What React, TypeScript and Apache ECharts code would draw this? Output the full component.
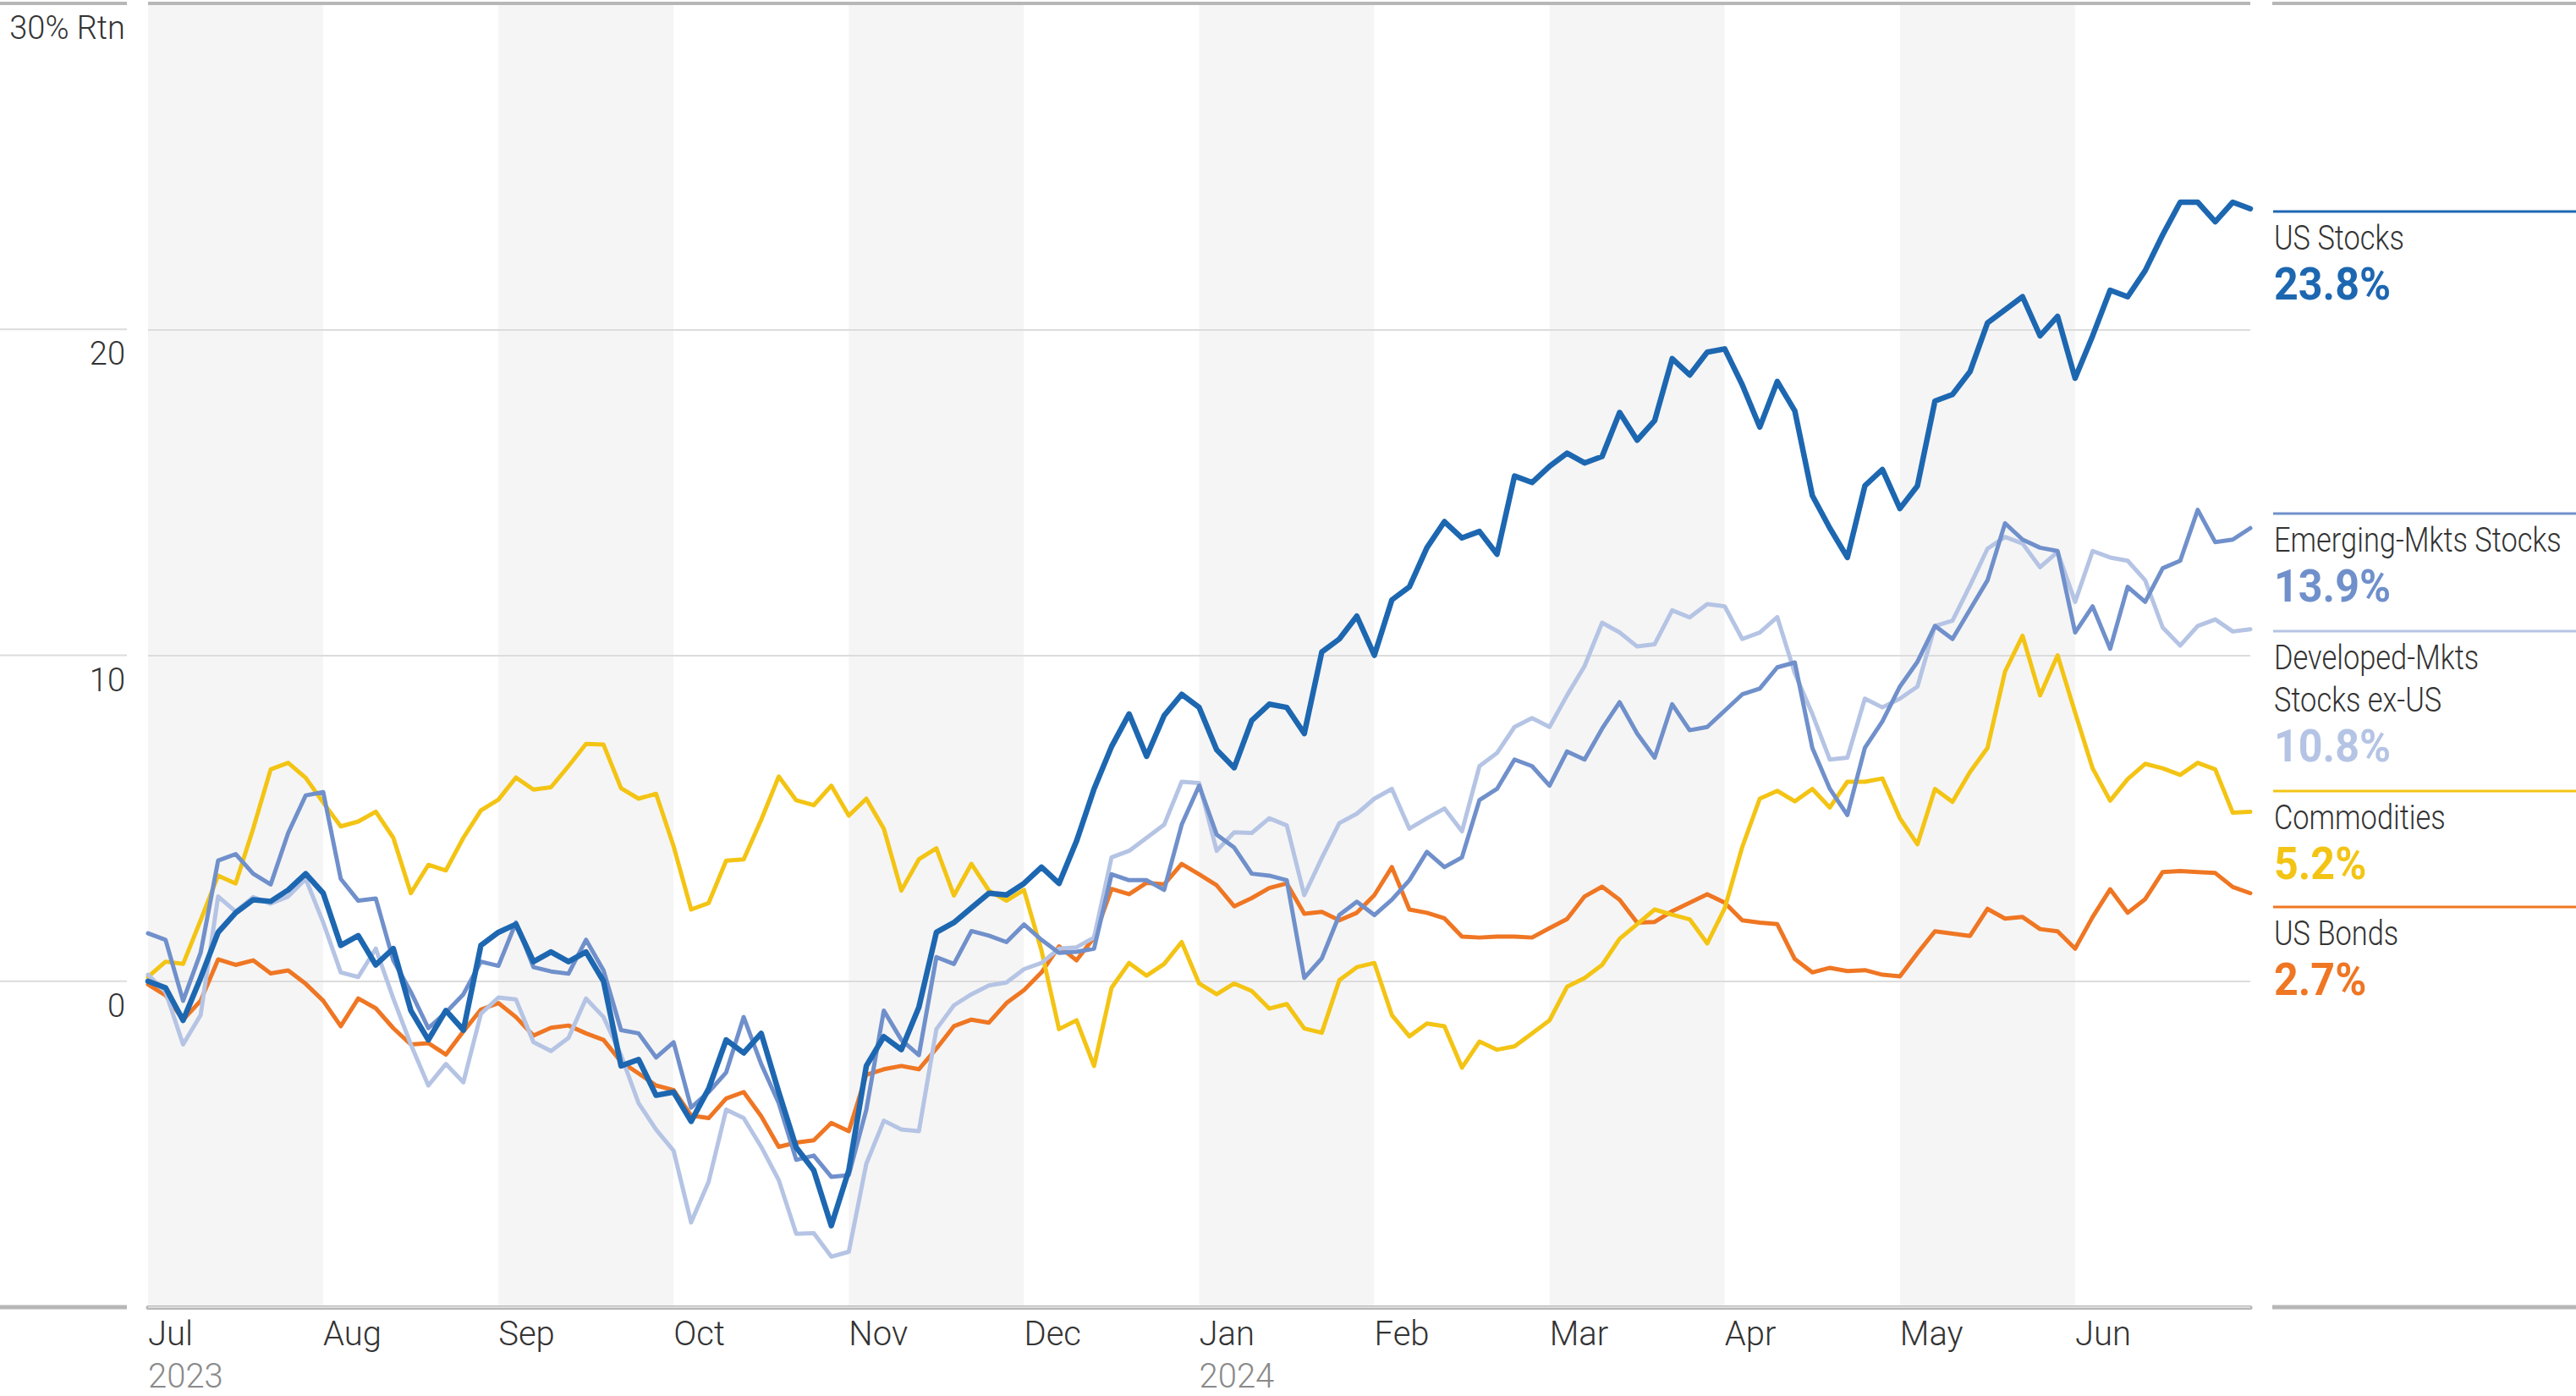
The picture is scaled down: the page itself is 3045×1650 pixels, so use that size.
import React, { useEffect, useRef } from "react";
import * as echarts from "echarts";

// ---------- data ----------
const months = ["Jul", "Aug", "Sep", "Oct", "Nov", "Dec", "Jan", "Feb", "Mar", "Apr", "May", "Jun"];
const yearLabels = ["2023", "", "", "", "", "", "2024", "", "", "", "", ""];
const yTicks = [-10, 0, 10, 20, 30];
const SAMPLES_PER_MONTH = 10; // one reading every ~3 calendar days

const usStocks = [
  0.0, -0.2, -1.2, 0.1, 1.5, 2.1, 2.5, 2.45, 2.8, 3.3,
  2.7, 1.1, 1.4, 0.5, 1.0, -0.9, -1.8, -0.9, -1.5, 1.1,
  1.5, 1.75, 0.6, 0.9, 0.6, 0.9, 0.0, -2.6, -2.4, -3.5,
  -3.4, -4.3, -3.3, -1.8, -2.2, -1.6, -3.4, -5.1, -5.8, -7.5,
  -5.8, -2.6, -1.7, -2.1, -0.8, 1.5, 1.8, 2.25, 2.7, 2.65,
  3.0, 3.5, 3.0, 4.3, 5.9, 7.2, 8.2, 6.9, 8.15, 8.8,
  8.4, 7.1, 6.55, 8.0, 8.5, 8.4, 7.6, 10.1, 10.5, 11.2,
  10.0, 11.7, 12.1, 13.3, 14.1, 13.6, 13.8, 13.1, 15.5, 15.3,
  15.8, 16.2, 15.9, 16.1, 17.45, 16.6, 17.2, 19.1, 18.6, 19.3,
  19.4, 18.3, 17.0, 18.4, 17.5, 14.9, 13.9, 13.0, 15.2, 15.7,
  14.5, 15.2, 17.8, 18.0, 18.7, 20.2, 20.6, 21.0, 19.8, 20.4,
  18.5, 19.8, 21.2, 21.0, 21.8, 22.9, 23.9, 23.9, 23.3, 23.9,
  23.7,
];

const emergingStocks = [
  1.47, 1.27, -0.6, 0.87, 3.7, 3.9, 3.3, 2.97, 4.55, 5.7,
  5.8, 3.14, 2.47, 2.54, 0.64, -0.33, -1.44, -0.96, -0.4, 0.6,
  0.47, 1.8, 0.43, 0.3, 0.23, 1.27, 0.33, -1.5, -1.6, -2.34,
  -1.87, -3.88, -3.4, -2.8, -1.1, -2.54, -3.74, -5.48, -5.35, -6.0,
  -5.95, -3.94, -0.9, -1.8, -2.27, 0.74, 0.53, 1.54, 1.4, 1.2,
  1.74, 1.27, 0.87, 0.9, 1.0, 3.28, 3.1, 3.1, 2.8, 4.8,
  6.0, 4.5, 4.1, 3.3, 3.24, 3.1, 0.1, 0.7, 2.03, 2.44,
  2.03, 2.5, 3.1, 3.97, 3.5, 3.8, 5.56, 5.9, 6.8, 6.6,
  6.0, 7.05, 6.8, 7.75, 8.56, 7.6, 6.86, 8.5, 7.7, 7.8,
  8.3, 8.8, 8.98, 9.63, 9.78, 7.16, 5.9, 5.1, 7.16, 7.97,
  9.04, 9.8, 10.9, 10.5, 11.4, 12.3, 14.05, 13.55, 13.3, 13.2,
  10.7, 11.5, 10.2, 12.1, 11.64, 12.67, 12.9, 14.46, 13.47, 13.55,
  13.9,
];

const developedStocks = [
  0.2, -0.33, -1.94, -1.04, 2.6, 2.14, 2.58, 2.38, 2.6, 3.14,
  1.8, 0.27, 0.13, 1.0, -0.53, -1.94, -3.2, -2.54, -3.1, -1.0,
  -0.5, -0.56, -1.87, -2.14, -1.74, -0.53, -1.1, -2.27, -3.74, -4.55,
  -5.2, -7.4, -6.15, -3.94, -4.2, -5.08, -6.1, -7.75, -7.73, -8.45,
  -8.3, -5.6, -4.28, -4.55, -4.6, -1.47, -0.74, -0.4, -0.13, -0.04,
  0.37, 0.56, 1.0, 1.04, 1.34, 3.8, 4.0, 4.4, 4.8, 6.12,
  6.08, 4.0, 4.57, 4.55, 5.0, 4.78, 2.64, 3.78, 4.85, 5.14,
  5.6, 5.9, 4.68, 5.0, 5.3, 4.6, 6.6, 7.0, 7.8, 8.07,
  7.8, 8.77, 9.67, 11.0, 10.7, 10.27, 10.34, 11.38, 11.16, 11.57,
  11.5, 10.5, 10.7, 11.17, 9.45, 8.2, 6.8, 6.86, 8.67, 8.4,
  8.67, 9.04, 10.9, 11.06, 12.14, 13.27, 13.63, 13.43, 12.7, 13.17,
  11.64, 13.2, 13.0, 12.9, 12.3, 10.85, 10.3, 10.9, 11.1, 10.73,
  10.8,
];

const commodities = [
  0.13, 0.6, 0.53, 1.87, 3.24, 3.0, 4.68, 6.5, 6.7, 6.24,
  5.48, 4.75, 4.9, 5.2, 4.4, 2.7, 3.57, 3.4, 4.4, 5.24,
  5.57, 6.25, 5.88, 5.95, 6.6, 7.28, 7.26, 5.92, 5.6, 5.75,
  4.14, 2.2, 2.4, 3.7, 3.74, 4.95, 6.28, 5.55, 5.4, 6.0,
  5.08, 5.6, 4.68, 2.78, 3.74, 4.08, 2.63, 3.6, 2.78, 2.47,
  2.8, 0.94, -1.47, -1.2, -2.6, -0.2, 0.56, 0.17, 0.53, 1.2,
  -0.07, -0.4, -0.07, -0.3, -0.84, -0.7, -1.45, -1.58, 0.03, 0.43,
  0.56, -1.04, -1.69, -1.3, -1.38, -2.65, -1.85, -2.1, -2.0, -1.6,
  -1.2, -0.17, 0.1, 0.5, 1.3, 1.75, 2.2, 2.04, 1.9, 1.16,
  2.24, 4.12, 5.6, 5.84, 5.52, 5.9, 5.33, 6.12, 6.12, 6.22,
  5.0, 4.2, 5.9, 5.5, 6.42, 7.16, 9.5, 10.6, 8.77, 10.0,
  8.24, 6.53, 5.54, 6.2, 6.67, 6.53, 6.33, 6.7, 6.5, 5.17,
  5.2,
];

const usBonds = [
  -0.1, -0.43, -1.18, -0.6, 0.67, 0.5, 0.64, 0.24, 0.33, -0.08,
  -0.6, -1.38, -0.53, -0.83, -1.44, -1.94, -1.9, -2.25, -1.54, -0.87,
  -0.67, -1.1, -1.67, -1.43, -1.36, -1.6, -1.8, -2.47, -2.83, -3.2,
  -3.34, -4.12, -4.2, -3.6, -3.4, -4.14, -5.08, -4.95, -4.88, -4.35,
  -4.6, -2.87, -2.7, -2.6, -2.7, -2.07, -1.38, -1.18, -1.27, -0.67,
  -0.27, 0.27, 1.07, 0.64, 1.34, 2.83, 2.67, 3.02, 2.97, 3.6,
  3.28, 2.94, 2.3, 2.55, 2.86, 3.0, 2.07, 2.13, 1.87, 2.1,
  2.64, 3.5, 2.2, 2.1, 1.93, 1.37, 1.34, 1.37, 1.37, 1.34,
  1.63, 1.91, 2.6, 2.9, 2.5, 1.8, 1.82, 2.15, 2.41, 2.67,
  2.41, 1.87, 1.8, 1.75, 0.68, 0.27, 0.41, 0.31, 0.34, 0.2,
  0.15, 0.86, 1.53, 1.46, 1.39, 2.22, 1.92, 1.97, 1.6, 1.53,
  1.0, 1.97, 2.82, 2.1, 2.52, 3.35, 3.38, 3.35, 3.32, 2.89,
  2.7,
];

const seriesNames = ["US Stocks", "Emerging-Mkts Stocks", "Developed-Mkts Stocks ex-US", "Commodities", "US Bonds"];
const legendLabelLines = [["US Stocks"], ["Emerging-Mkts Stocks"], ["Developed-Mkts", "Stocks ex-US"], ["Commodities"], ["US Bonds"]];
const finalReturns = [23.8, 13.9, 10.8, 5.2, 2.7];

// ---------- styles ----------
const W = 3045;
const H = 1650;
const FONT = "Roboto, 'Liberation Sans', sans-serif";
const LIGHT = 300;
const COLORS = ["#1d67b1", "#7090cb", "#b5c4e4", "#f3c414", "#ef7623"];
const WIDTHS = [6.5, 5, 5, 5, 5];
const LEGEND_LINE_Y = [250, 607, 746, 935, 1072];
const AXIS_DARK = "#b7b7b7";
const GRID_LIGHT = "#dcdcdc";
const TEXT_DARK = "#333333";

export default function App() {
  const ref = useRef<HTMLDivElement>(null);

  useEffect(() => {
    document.body.style.margin = "0";
    if (!ref.current) return;
    const chart = echarts.init(ref.current, null, { renderer: "svg" });
    const allSeries = [usStocks, emergingStocks, developedStocks, commodities, usBonds];
    const toPairs = (arr: number[]) => arr.map((v, i) => [i / SAMPLES_PER_MONTH, v]);

    const series = allSeries
      .map((arr, k) => ({
        name: seriesNames[k],
        type: "line",
        data: toPairs(arr),
        showSymbol: false,
        symbol: "none",
        silent: true,
        z: 10 - k,
        lineStyle: { color: COLORS[k], width: WIDTHS[k], join: "round", cap: "round" },
        itemStyle: { color: COLORS[k] },
        emphasis: { disabled: true },
      }))
      .reverse();

    chart.setOption({
      animation: false,
      backgroundColor: "#ffffff",
      textStyle: { fontFamily: FONT },
      grid: { left: 175, right: 385, top: 4, bottom: 105, containLabel: false },
      xAxis: {
        type: "value",
        min: 0,
        max: months.length,
        interval: 1,
        z: 0,
        axisLine: { show: true, onZero: false, lineStyle: { color: AXIS_DARK, width: 5 } },
        axisTick: { show: false },
        splitLine: { show: false },
        splitArea: { show: true, areaStyle: { color: ["#f5f5f5", "#ffffff"] } },
        axisLabel: {
          align: "left",
          margin: 6,
          formatter: (v: number) => {
            const i = Math.round(v);
            if (i < 0 || i >= months.length) return "";
            return yearLabels[i] ? `{m|${months[i]}}\n{y|${yearLabels[i]}}` : `{m|${months[i]}}`;
          },
          rich: {
            m: { fontSize: 40, fontWeight: LIGHT, color: TEXT_DARK, lineHeight: 50, fontFamily: FONT },
            y: { fontSize: 40, fontWeight: LIGHT, color: "#8a8a8a", lineHeight: 50, fontFamily: FONT },
          },
        },
      },
      yAxis: {
        type: "value",
        min: yTicks[0],
        max: yTicks[yTicks.length - 1],
        interval: 10,
        z: 1,
        axisLine: { show: false },
        axisTick: { show: false },
        splitLine: { show: true, lineStyle: { color: GRID_LIGHT, width: 2 } },
        axisLabel: {
          align: "right",
          verticalAlign: "top",
          lineHeight: 40,
          margin: 27,
          padding: [9, 0, 0, 0],
          fontSize: 38,
          fontWeight: LIGHT,
          color: TEXT_DARK,
          fontFamily: FONT,
          formatter: (v: number) => (v === yTicks[0] ? "" : v === yTicks[yTicks.length - 1] ? `${v}% Rtn` : `${v}`),
        },
      },
      series,
    });

    const yPx = (v: number) => chart.convertToPixel({ yAxisIndex: 0 }, v) as number;
    const xPx = (v: number) => chart.convertToPixel({ xAxisIndex: 0 }, v) as number;
    const left = xPx(0);
    const right = xPx(months.length);
    const yTop = yPx(yTicks[yTicks.length - 1]);
    const yBottom = yPx(yTicks[0]);
    const legendX = right + 27;

    const seg = (x1: number, x2: number, y: number, stroke: string, lineWidth: number) => ({
      type: "line",
      silent: true,
      z: 20,
      shape: { x1, y1: y, x2, y2: y },
      style: { stroke, lineWidth },
    });

    const graphics: any[] = [
      seg(0, left - 25, yTop, AXIS_DARK, 4),
      seg(left, right, yTop, AXIS_DARK, 4),
      seg(right + 26, W, yTop, AXIS_DARK, 4),
      seg(0, left - 25, yBottom, AXIS_DARK, 5),
      seg(right + 26, W, yBottom, AXIS_DARK, 5),
    ];
    [0, 10, 20].forEach((v) => graphics.push(seg(0, left - 25, yPx(v), GRID_LIGHT, 2)));

    legendLabelLines.forEach((lines, k) => {
      const ly = LEGEND_LINE_Y[k];
      graphics.push(seg(legendX, W, ly, COLORS[k], 3));
      lines.forEach((t, j) => {
        graphics.push({
          type: "text",
          silent: true,
          z: 20,
          x: legendX + 1,
          y: ly + 31 + 50 * j,
          scaleX: 0.86,
          style: {
            text: t,
            fontSize: 40,
            fontWeight: LIGHT,
            fontFamily: FONT,
            fill: TEXT_DARK,
            align: "left",
            verticalAlign: "middle",
          },
        });
      });
      graphics.push({
        type: "text",
        silent: true,
        z: 20,
        x: legendX + 1,
        y: ly + 31 + 50 * lines.length + 5,
        scaleX: 0.93,
        style: {
          text: `${finalReturns[k].toFixed(1)}%`,
          fontSize: 54,
          fontWeight: "bold",
          fontFamily: FONT,
          fill: COLORS[k],
          align: "left",
          verticalAlign: "middle",
        },
      });
    });

    chart.setOption({ graphic: graphics });

    return () => chart.dispose();
  }, []);

  return (
    <div
      ref={ref}
      style={{ position: "fixed", left: 0, top: 0, width: W, height: H, background: "#ffffff" }}
    />
  );
}
